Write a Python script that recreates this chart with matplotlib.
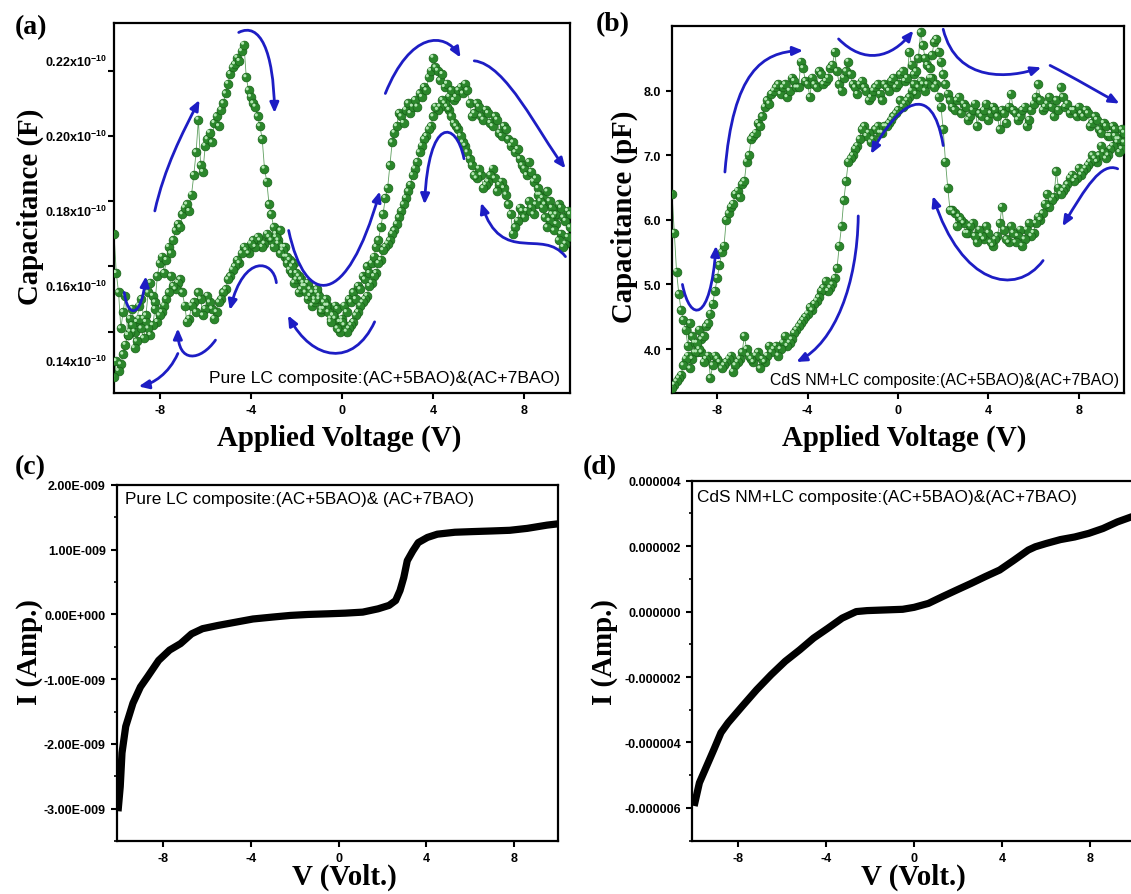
import numpy as np
import matplotlib
matplotlib.use('Agg')
import matplotlib.pyplot as plt
from matplotlib.font_manager import FontProperties
from matplotlib.patches import FancyArrowPatch
from matplotlib.path import Path
from matplotlib.ticker import AutoMinorLocator, FuncFormatter
from matplotlib.transforms import offset_copy

plt.rcParams['font.family'] = ['Liberation Sans', 'DejaVu Sans']
plt.rcParams['axes.unicode_minus'] = False
plt.rcParams['mathtext.fontset'] = 'custom'
plt.rcParams['mathtext.rm'] = 'Liberation Sans:bold'
plt.rcParams['mathtext.bf'] = 'Liberation Sans:bold'
plt.rcParams['mathtext.default'] = 'bf'

# bias sweep in 0.1 V steps; the return sweep runs back from +10 V
v_up = np.linspace(-10, 10, 201)
v_down = v_up[::-1]

# (a) pure LC composite, capacitance in units of 1e-10 F (one row per volt)
cap_a_up = [
    0.170, 0.158, 0.152, 0.141, 0.146, 0.151, 0.139, 0.144, 0.147, 0.140,
    0.143, 0.148, 0.150, 0.144, 0.145, 0.152, 0.155, 0.151, 0.149, 0.157,
    0.161, 0.163, 0.158, 0.162, 0.166, 0.164, 0.168, 0.171, 0.173, 0.172,
    0.176, 0.178, 0.179, 0.177, 0.182, 0.188, 0.195, 0.205, 0.191, 0.189,
    0.197, 0.199, 0.201, 0.198, 0.204, 0.206, 0.203, 0.208, 0.210, 0.213,
    0.216, 0.219, 0.221, 0.222, 0.224, 0.223, 0.226, 0.228, 0.218, 0.214,
    0.212, 0.210, 0.209, 0.206, 0.203, 0.199, 0.190, 0.186, 0.179, 0.176,
    0.172, 0.170, 0.168, 0.171, 0.166, 0.163, 0.161, 0.159, 0.158, 0.155,
    0.156, 0.152, 0.153, 0.155, 0.154, 0.150, 0.151, 0.148, 0.149, 0.152,
    0.150, 0.146, 0.147, 0.150, 0.148, 0.144, 0.145, 0.148, 0.147, 0.143,
    0.144, 0.148, 0.146, 0.150, 0.149, 0.152, 0.150, 0.154, 0.153, 0.157,
    0.156, 0.160, 0.158, 0.161, 0.163, 0.166, 0.168, 0.172, 0.176, 0.181,
    0.184, 0.191, 0.198, 0.201, 0.203, 0.207, 0.206, 0.204, 0.208, 0.210,
    0.207, 0.209, 0.211, 0.209, 0.213, 0.212, 0.215, 0.214, 0.218, 0.220,
    0.224, 0.221, 0.220, 0.217, 0.219, 0.215, 0.216, 0.212, 0.214, 0.211,
    0.212, 0.214, 0.215, 0.213, 0.216, 0.214, 0.210, 0.206, 0.207, 0.210,
    0.209, 0.206, 0.205, 0.208, 0.207, 0.204, 0.203, 0.206, 0.205, 0.201,
    0.200, 0.203, 0.202, 0.199, 0.197, 0.198, 0.195, 0.196, 0.193, 0.191,
    0.190, 0.188, 0.192, 0.189, 0.186, 0.187, 0.184, 0.182, 0.181, 0.179,
    0.183, 0.180, 0.178, 0.175, 0.176, 0.179, 0.178, 0.175, 0.174, 0.177,
    0.176,
]
cap_a_down = [
    0.172, 0.169, 0.167, 0.166, 0.170, 0.168, 0.173, 0.171, 0.176, 0.174,
    0.172, 0.175, 0.178, 0.180, 0.182, 0.179, 0.176, 0.178, 0.180, 0.177,
    0.175, 0.177, 0.178, 0.174, 0.172, 0.170, 0.176, 0.179, 0.182, 0.184,
    0.186, 0.185, 0.183, 0.187, 0.190, 0.188, 0.186, 0.185, 0.184, 0.188,
    0.190, 0.187, 0.188, 0.191, 0.193, 0.195, 0.197, 0.198, 0.200, 0.202,
    0.203, 0.204, 0.206, 0.208, 0.209, 0.210, 0.211, 0.209, 0.208, 0.209,
    0.206, 0.203, 0.202, 0.200, 0.199, 0.197, 0.195, 0.192, 0.190, 0.188,
    0.185, 0.183, 0.181, 0.179, 0.177, 0.175, 0.173, 0.171, 0.170, 0.168,
    0.167, 0.166, 0.165, 0.162, 0.161, 0.158, 0.157, 0.155, 0.154, 0.151,
    0.150, 0.149, 0.148, 0.146, 0.145, 0.143, 0.142, 0.141, 0.140, 0.142,
    0.143, 0.140, 0.141, 0.144, 0.145, 0.143, 0.146, 0.148, 0.149, 0.147,
    0.151, 0.153, 0.150, 0.152, 0.153, 0.155, 0.152, 0.154, 0.156, 0.157,
    0.158, 0.161, 0.160, 0.162, 0.163, 0.166, 0.165, 0.164, 0.167, 0.169,
    0.166, 0.168, 0.169, 0.170, 0.167, 0.166, 0.168, 0.169, 0.166, 0.168,
    0.167, 0.164, 0.165, 0.166, 0.164, 0.161, 0.162, 0.160, 0.159, 0.157,
    0.156, 0.153, 0.152, 0.150, 0.149, 0.146, 0.144, 0.147, 0.149, 0.151,
    0.147, 0.145, 0.150, 0.152, 0.146, 0.149, 0.148, 0.144, 0.143, 0.148,
    0.152, 0.156, 0.155, 0.153, 0.154, 0.157, 0.152, 0.150, 0.148, 0.146,
    0.145, 0.143, 0.147, 0.142, 0.139, 0.141, 0.143, 0.138, 0.141, 0.144,
    0.137, 0.135, 0.142, 0.140, 0.139, 0.136, 0.133, 0.130, 0.128, 0.131,
    0.126,
]

# (b) CdS NM + LC composite, capacitance in pF
cap_b_up = [
    6.40, 5.80, 5.20, 4.85, 4.60, 4.45, 4.30, 4.05, 4.40, 4.20,
    4.10, 3.95, 4.30, 4.15, 4.20, 4.35, 4.40, 4.55, 4.70, 4.90,
    5.10, 5.30, 5.50, 5.60, 6.00, 6.10, 6.20, 6.25, 6.40, 6.45,
    6.35, 6.55, 6.60, 6.90, 7.00, 7.25, 7.30, 7.35, 7.50, 7.45,
    7.60, 7.75, 7.85, 7.80, 7.95, 8.00, 8.05, 8.10, 7.95, 8.05,
    8.10, 7.90, 8.00, 8.20, 8.15, 8.05, 8.05, 8.45, 8.35, 8.15,
    8.10, 7.90, 8.20, 8.10, 8.05, 8.30, 8.25, 8.10, 8.15, 8.20,
    8.35, 8.40, 8.60, 8.30, 8.10, 8.00, 8.20, 8.30, 8.45, 8.25,
    8.10, 8.05, 7.95, 8.10, 8.15, 8.05, 8.00, 7.85, 7.90, 8.00,
    8.05, 8.10, 7.95, 7.85, 8.10, 8.05, 8.00, 8.15, 8.20, 8.05,
    8.10, 8.25, 8.30, 8.15, 8.20, 8.60, 8.40, 8.25, 8.30, 8.50,
    8.90, 8.70, 8.50, 8.40, 8.35, 8.55, 8.75, 8.80, 8.60, 8.45,
    8.25, 8.10, 7.95, 7.85, 7.75, 7.70, 7.85, 7.90, 7.65, 7.80,
    7.75, 7.55, 7.60, 7.70, 7.80, 7.45, 7.65, 7.60, 7.70, 7.80,
    7.55, 7.65, 7.75, 7.70, 7.60, 7.40, 7.70, 7.65, 7.50, 7.75,
    7.95, 7.70, 7.65, 7.55, 7.60, 7.70, 7.75, 7.45, 7.55, 7.70,
    7.80, 7.90, 8.10, 7.85, 7.70, 7.75, 7.80, 7.90, 7.75, 7.60,
    7.85, 7.70, 8.05, 7.90, 7.75, 7.80, 7.65, 7.70, 7.70, 7.60,
    7.75, 7.65, 7.60, 7.70, 7.65, 7.45, 7.50, 7.60, 7.55, 7.40,
    7.35, 7.50, 7.45, 7.30, 7.30, 7.45, 7.40, 7.20, 7.25, 7.40,
    7.35,
]
cap_b_down = [
    7.20, 7.10, 7.05, 7.25, 7.30, 7.15, 7.10, 7.00, 6.95, 7.05,
    7.15, 7.00, 6.90, 6.95, 7.00, 6.90, 6.85, 6.80, 6.75, 6.70,
    6.80, 6.65, 6.60, 6.70, 6.65, 6.55, 6.50, 6.45, 6.40, 6.50,
    6.75, 6.35, 6.30, 6.20, 6.40, 6.25, 6.10, 6.00, 6.05, 5.95,
    5.80, 5.75, 5.95, 5.85, 5.70, 5.60, 5.85, 5.75, 5.65, 5.80,
    5.90, 5.65, 5.70, 5.85, 6.20, 5.95, 5.75, 5.70, 5.60, 5.65,
    5.80, 5.90, 5.70, 5.75, 5.85, 5.65, 5.75, 5.95, 5.90, 5.80,
    5.80, 5.95, 6.00, 6.05, 5.90, 6.10, 6.15, 6.15, 6.50, 6.90,
    7.40, 7.75, 7.90, 8.10, 8.05, 8.20, 8.20, 8.10, 8.00, 8.10,
    8.15, 8.05, 7.95, 8.10, 8.00, 7.90, 7.85, 7.80, 7.75, 7.85,
    7.70, 7.65, 7.60, 7.55, 7.50, 7.45, 7.45, 7.35, 7.35, 7.45,
    7.40, 7.25, 7.20, 7.35, 7.30, 7.45, 7.40, 7.25, 7.15, 7.10,
    7.00, 6.95, 6.90, 6.60, 6.30, 5.90, 5.60, 5.25, 5.10, 5.00,
    4.95, 4.90, 5.05, 4.95, 4.90, 4.80, 4.75, 4.70, 4.60, 4.65,
    4.55, 4.50, 4.45, 4.40, 4.35, 4.30, 4.25, 4.15, 4.10, 4.05,
    4.20, 4.10, 4.00, 3.90, 4.05, 4.00, 3.95, 4.05, 3.90, 3.80,
    3.85, 3.70, 3.95, 3.90, 3.80, 3.85, 3.90, 4.00, 4.20, 3.95,
    3.85, 3.80, 3.75, 3.65, 3.90, 3.85, 3.80, 3.75, 3.70, 3.80,
    3.85, 3.90, 3.75, 3.55, 3.90, 3.85, 3.80, 3.95, 4.00, 4.10,
    3.95, 3.85, 3.70, 3.90, 3.85, 3.75, 3.60, 3.55, 3.50, 3.45,
    3.40,
]

# (c) I-V of pure LC composite, current in nA
iv_c_volt = [
    -10.05, -9.95, -9.87, -9.7, -9.37, -9.03, -8.7, -8.2, -7.7, -7.2,
    -6.7, -6.2, -5.5, -4.7, -3.9, -3.0, -2.2, -1.4, -0.5, 0.3,
    1.1, 1.8, 2.3, 2.6, 2.8, 2.97, 3.13, 3.38, 3.63, 4.05,
    4.5, 5.3, 6.1, 7.0, 7.8, 8.6, 9.5, 10.0,
]
iv_c_amp = [
    -3.04, -2.66, -2.14, -1.73, -1.37, -1.12, -0.96, -0.71, -0.55, -0.45,
    -0.30, -0.22, -0.17, -0.12, -0.07, -0.04, -0.015, 0.0, 0.01, 0.02,
    0.036, 0.087, 0.14, 0.215, 0.37, 0.57, 0.83, 0.98, 1.11, 1.19,
    1.24, 1.27, 1.28, 1.29, 1.30, 1.33, 1.38, 1.40,
]

# (d) I-V of CdS NM + LC composite, current in uA
iv_d_volt = [
    -10.0, -9.76, -9.43, -9.1, -8.78, -8.46, -7.81, -7.16, -6.5, -5.86,
    -5.2, -4.57, -3.92, -3.27, -2.63, -2.14, -1.33, -0.52, 0.0, 0.65,
    1.3, 1.94, 2.59, 3.24, 3.89, 4.54, 5.19, 5.51, 6.0, 6.65,
    7.3, 7.94, 8.59, 9.24, 9.86, 10.0,
]
iv_d_amp = [
    -5.94, -5.23, -4.72, -4.21, -3.70, -3.40, -2.89, -2.39, -1.93, -1.52,
    -1.17, -0.81, -0.51, -0.20, 0.0, 0.03, 0.05, 0.07, 0.13, 0.25,
    0.46, 0.66, 0.86, 1.07, 1.27, 1.57, 1.88, 1.98, 2.08, 2.20,
    2.28, 2.39, 2.54, 2.74, 2.89, 2.92,
]

# direction arrows (cubic bezier control points: start, c1, c2, end)
arrows_a = [
    [(-9.55, 0.152), (-9.4, 0.144), (-8.8, 0.144), (-8.6, 0.157)],
    [(-8.21, 0.177), (-7.8, 0.190), (-7.0, 0.201), (-6.25, 0.211)],
    [(-4.53, 0.2317), (-3.6, 0.235), (-3.0, 0.226), (-2.96, 0.207)],
    [(-2.34, 0.171), (-1.6, 0.147), (0.2, 0.147), (1.66, 0.183)],
    [(1.9, 0.213), (3.0, 0.232), (4.5, 0.232), (5.2, 0.224)],
    [(5.8, 0.223), (7.2, 0.222), (8.6, 0.201), (9.8, 0.190)],
    [(9.8, 0.163), (8.8, 0.172), (7.0, 0.160), (6.1, 0.1795)],
    [(5.35, 0.193), (5.0, 0.205), (3.8, 0.206), (3.62, 0.179)],
    [(1.43, 0.143), (0.5, 0.129), (-1.3, 0.131), (-2.37, 0.145)],
    [(-2.88, 0.155), (-3.0, 0.162), (-4.3, 0.164), (-4.92, 0.1466)],
    [(-5.55, 0.1374), (-6.2, 0.131), (-7.2, 0.130), (-7.2, 0.141)],
    [(-7.2, 0.1333), (-7.6, 0.127), (-8.3, 0.124), (-8.92, 0.1232)],
]
arrows_b = [
    [(-9.54, 5.0), (-9.2, 4.4), (-8.3, 4.4), (-8.05, 5.6)],
    [(-7.66, 6.74), (-7.3, 8.3), (-6.0, 8.6), (-4.2, 8.62)],
    [(-2.63, 8.8), (-1.5, 8.4), (-0.3, 8.5), (0.68, 8.93)],
    [(2.0, 8.95), (2.6, 8.1), (5.0, 8.2), (6.34, 8.36)],
    [(6.73, 8.39), (7.8, 8.2), (9.0, 7.95), (9.8, 7.8)],
    [(9.72, 6.79), (9.0, 6.9), (8.3, 6.5), (7.28, 5.9)],
    [(6.42, 5.37), (5.2, 4.8), (2.8, 5.0), (1.54, 6.37)],
    [(2.0, 7.15), (1.5, 8.2), (0.0, 7.8), (-1.2, 7.02)],
    [(-1.76, 6.06), (-1.8, 5.0), (-2.8, 4.1), (-4.5, 3.8)],
]

a_ticks = [0.14, 0.16, 0.18, 0.20, 0.22]
b_ticks = [4.0, 5.0, 6.0, 7.0, 8.0]
volt_ticks = [-8, -4, 0, 4, 8]

LABEL_FONT = dict(family='Liberation Serif', weight='bold', size=20.8)
TICK_FONT = dict(family='Liberation Sans', weight='bold', size=9)
BLUE = '#1d1dc4'


def style_axes(ax):
    for sp in ax.spines.values():
        sp.set_linewidth(1.6)
    ax.tick_params(which='major', direction='out', length=4, width=1.5,
                   top=False, right=False, pad=4)
    ax.tick_params(which='minor', direction='out', length=2.5, width=1.2,
                   top=False, right=False)
    ax.set_xticks(volt_ticks)
    for lab in ax.get_xticklabels() + ax.get_yticklabels():
        lab.set_fontproperties(FontProperties(**TICK_FONT))


def draw_sweep(ax, v, c):
    ax.plot(v, c, color='#5f9f5f', lw=0.6, zorder=2)
    ax.scatter(v, c, s=40, color='#2b872b', edgecolors='#176218',
               linewidths=0.5, zorder=3)
    hl = offset_copy(ax.transData, fig=ax.figure, x=-1.0, y=1.0, units='points')
    ax.scatter(v, c, s=5, color='#b4e6b4', edgecolors='none',
               transform=hl, zorder=4)


def draw_arrows(ax, arrows):
    codes = [Path.MOVETO, Path.CURVE4, Path.CURVE4, Path.CURVE4]
    for pts in arrows:
        arr = FancyArrowPatch(path=Path(pts, codes),
                              arrowstyle='-|>,head_length=6,head_width=2.6',
                              color=BLUE, lw=2.0, zorder=5)
        ax.add_patch(arr)


fig = plt.figure(figsize=(11.31, 8.95), dpi=100)

# (a) C-V, pure LC
ax_a = fig.add_axes([0.1008, 0.5598, 0.4032, 0.4134])
draw_sweep(ax_a, v_up, cap_a_up)
draw_sweep(ax_a, v_down, cap_a_down)
draw_arrows(ax_a, arrows_a)
ax_a.set_xlim(-10, 10)
ax_a.set_ylim(0.1212, 0.2346)
ax_a.set_yticks(a_ticks)
ax_a.set_yticklabels([])
style_axes(ax_a)
for i, t in enumerate(a_ticks[::-1]):
    ax_a.text(-0.015, 0.895 - 0.2024 * i, f'{t:.2f}x10$^{{-10}}$',
              transform=ax_a.transAxes, ha='right', va='center', **TICK_FONT)
ax_a.set_xlabel('Applied Voltage (V)', **LABEL_FONT)
ax_a.set_ylabel('Capacitance (F)', **LABEL_FONT)
ax_a.xaxis.set_label_coords(0.493, -0.083)
ax_a.yaxis.set_label_coords(-0.153, 0.505)
ax_a.text(0.208, 0.043, 'Pure LC composite:(AC+5BAO)&(AC+7BAO)',
          transform=ax_a.transAxes, ha='left', va='center', fontsize=12.6)

# (b) C-V, CdS NM + LC
ax_b = fig.add_axes([0.5942, 0.5598, 0.3996, 0.41])
draw_sweep(ax_b, v_up, cap_b_up)
draw_sweep(ax_b, v_down, cap_b_down)
draw_arrows(ax_b, arrows_b)
ax_b.set_xlim(-10, 10)
ax_b.set_ylim(3.32, 9.0)
ax_b.set_yticks(b_ticks)
ax_b.yaxis.set_major_formatter(FuncFormatter(lambda v, p: f'{v:.1f}'))
style_axes(ax_b)
ax_b.set_xlabel('Applied Voltage (V)', **LABEL_FONT)
ax_b.set_ylabel('Capacitance (pF)', **LABEL_FONT)
ax_b.xaxis.set_label_coords(0.513, -0.083)
ax_b.yaxis.set_label_coords(-0.075, 0.482)
ax_b.text(0.989, 0.038, 'CdS NM+LC composite:(AC+5BAO)&(AC+7BAO)',
          transform=ax_b.transAxes, ha='right', va='center', fontsize=11.4)


def sci_label(val, pos):
    if abs(val) < 1e-15:
        return '0.00E+000'
    exp = int(np.floor(np.log10(abs(val)) + 1e-9))
    return f'{val / 10 ** exp:.2f}E{exp:+04d}'


def fixed_label(val, pos):
    if abs(val) < 1e-12:
        return '0.000000'
    return f'{val:.6f}'


# (c) I-V, pure LC
ax_c = fig.add_axes([0.1034, 0.0592, 0.39, 0.3978])
ax_c.plot(iv_c_volt, np.array(iv_c_amp) * 1e-9, color='black', lw=5.2,
          solid_capstyle='butt', solid_joinstyle='round')
ax_c.set_xlim(-10.1, 10)
ax_c.set_ylim(-3.5e-9, 2.0e-9)
ax_c.set_yticks([-3e-9, -2e-9, -1e-9, 0, 1e-9, 2e-9])
ax_c.yaxis.set_major_formatter(FuncFormatter(sci_label))
ax_c.yaxis.set_minor_locator(AutoMinorLocator(2))
style_axes(ax_c)
ax_c.set_xlabel('V (Volt.)', **LABEL_FONT)
ax_c.set_ylabel('I (Amp.)', **LABEL_FONT)
ax_c.xaxis.set_label_coords(0.515, -0.062)
ax_c.yaxis.set_label_coords(-0.168, 0.534)
ax_c.text(0.018, 0.961, 'Pure LC composite:(AC+5BAO)& (AC+7BAO)',
          transform=ax_c.transAxes, ha='left', va='center', fontsize=12.3)

# (d) I-V, CdS NM + LC
ax_d = fig.add_axes([0.6118, 0.0596, 0.3909, 0.4022])
ax_d.plot(iv_d_volt, np.array(iv_d_amp) * 1e-6, color='black', lw=5.2,
          solid_capstyle='butt', solid_joinstyle='round')
ax_d.set_xlim(-10.1, 10)
ax_d.set_ylim(-7e-6, 4e-6)
ax_d.set_yticks([-6e-6, -4e-6, -2e-6, 0, 2e-6, 4e-6])
ax_d.yaxis.set_major_formatter(FuncFormatter(fixed_label))
ax_d.yaxis.set_minor_locator(AutoMinorLocator(2))
style_axes(ax_d)
ax_d.set_xlabel('V (Volt.)', **LABEL_FONT)
ax_d.set_ylabel('I (Amp.)', **LABEL_FONT)
ax_d.xaxis.set_label_coords(0.50, -0.062)
ax_d.yaxis.set_label_coords(-0.168, 0.527)
ax_d.text(0.011, 0.955, 'CdS NM+LC composite:(AC+5BAO)&(AC+7BAO)',
          transform=ax_d.transAxes, ha='left', va='center', fontsize=12.4)

# panel letters
for x, y, s in [(0.0274, 0.9687, '(a)'), (0.542, 0.972, '(b)'),
                (0.0265, 0.477, '(c)'), (0.53, 0.477, '(d)')]:
    fig.text(x, y, s, ha='center', va='center', family='Liberation Serif',
             weight='bold', size=20)

fig.savefig('out.png', dpi=100)
